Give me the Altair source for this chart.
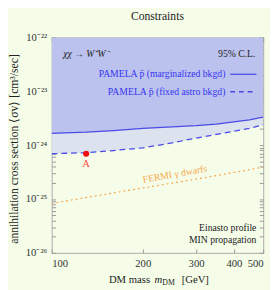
import altair as alt
import pandas as pd
import math

# ---- data ----
mass = [100, 130, 160, 200, 250, 300, 350, 400, 450, 500]
pamela_marg = [1.66e-24, 1.74e-24, 1.86e-24, 2.04e-24, 2.19e-24, 2.29e-24, 2.45e-24, 2.69e-24, 2.95e-24, 3.31e-24]
pamela_fixed = [6.92e-25, 7.24e-25, 7.94e-25, 8.91e-25, 1.10e-24, 1.35e-24, 1.58e-24, 1.82e-24, 2.04e-24, 2.40e-24]
excluded_top = [1e-22] * len(mass)

fermi_mass = [100, 200, 300, 400, 500]
fermi_sv = [8.3e-26, 1.6e-25, 2.34e-25, 3.1e-25, 3.9e-25]

point_mass = [130]
point_sv = [6.9e-25]
point_label = ["A"]

x_ticks = [100, 200, 300, 400, 500]
y_major = [1e-26, 1e-25, 1e-24, 1e-23, 1e-22]
y_major_labels = ["10⁻²⁶", "10⁻²⁵", "10⁻²⁴", "10⁻²³", "10⁻²²"]

df = pd.DataFrame({"mass": mass, "marg": pamela_marg, "fixed": pamela_fixed, "top": excluded_top})
df_f = pd.DataFrame({"mass": fermi_mass, "sv": fermi_sv})
df_p = pd.DataFrame({"mass": point_mass, "sv": point_sv, "label": point_label})

FONT = "Liberation Serif"
BG = "#f5fde9"
W, H = 218, 222

y_minor = [k * 10.0 ** e for e in range(-26, -22) for k in range(1, 10)] + [1e-22]

label_expr = "''"
for v, lab in zip(y_major, y_major_labels):
    e = round(math.log10(v))
    label_expr = f"abs(log(datum.value)/LN10 - ({e})) < 0.01 ? '{lab}' : ({label_expr})"

xscale = alt.Scale(type="log", domain=[100, 500], nice=False)
yscale = alt.Scale(type="log", domain=[1e-26, 1e-22], nice=False)

x_axis_bottom = alt.Axis(values=x_ticks, format="d", orient="bottom", offset=-4, tickSize=4,
                         labelPadding=5, domain=False, grid=False, title=None,
                         labelFont=FONT, labelFontSize=11, labelColor="#333", tickColor="#999")
x_axis_top = alt.Axis(values=x_ticks, orient="top", offset=-4, tickSize=4, labels=False,
                      domain=False, grid=False, title=None, tickColor="#999")
y_axis_left = alt.Axis(values=y_minor, labelExpr=label_expr, orient="left", offset=-4, tickSize=4,
                       labelPadding=5, domain=False, grid=False, title=None,
                       labelFont=FONT, labelFontSize=11, labelColor="#333", tickColor="#999")
y_axis_right = alt.Axis(values=y_minor, orient="right", offset=-4, tickSize=4, labels=False,
                        domain=False, grid=False, title=None, tickColor="#999")

X = alt.X("mass:Q", scale=xscale, axis=x_axis_bottom)
Xn = alt.X("mass:Q", scale=xscale, axis=None)

base = alt.Chart(df)

upper = base.mark_area(color="#bcc2ee", opacity=1, clip=True).encode(
    x=X, y=alt.Y("marg:Q", scale=yscale, axis=y_axis_left), y2="top:Q")
middle = base.mark_area(color="#dce2ee", opacity=1, clip=True).encode(
    x=Xn, y=alt.Y("fixed:Q", scale=yscale, axis=None), y2="marg:Q")
line_marg = base.mark_line(color="#4a4ae8", strokeWidth=1.3, clip=True).encode(
    x=alt.X("mass:Q", scale=xscale, axis=x_axis_top), y=alt.Y("marg:Q", scale=yscale, axis=y_axis_right))
line_fixed = base.mark_line(color="#4a4ae8", strokeWidth=1.3, strokeDash=[6, 4], clip=True).encode(
    x=Xn, y=alt.Y("fixed:Q", scale=yscale, axis=None))
fermi = alt.Chart(df_f).mark_line(color="#f5a64a", strokeWidth=1.2, strokeDash=[2, 3], clip=True).encode(
    x=Xn, y=alt.Y("sv:Q", scale=yscale, axis=None))
pt = alt.Chart(df_p).mark_point(filled=True, color="#ee1111", size=40, opacity=1).encode(
    x=Xn, y=alt.Y("sv:Q", scale=yscale, axis=None))
pt_lab = alt.Chart(df_p).mark_text(color="#ff4a4a", font=FONT, fontSize=11, dy=11).encode(
    x=Xn, y=alt.Y("sv:Q", scale=yscale, axis=None), text="label:N")


def txt(s, x, y, align="left", size=10, color="#222", style="normal", angle=0, baseline="middle"):
    return alt.Chart(pd.DataFrame({"t": [s]})).mark_text(
        align=align, baseline=baseline, font=FONT, fontSize=size, color=color,
        fontStyle=style, angle=angle).encode(x=alt.value(x), y=alt.value(y), text="t:N")


blue = "#3535f0"
texts = [
    txt("Constraints", W / 2, -22, align="center", size=12),
    txt("χχ → W⁺W⁻", 12, 17, style="italic"),
    txt("95% C.L.", 210, 17, align="right"),
    txt("PAMELA p̄ (marginalized bkgd)", 179, 38, align="right", color=blue),
    txt("PAMELA p̄ (fixed astro bkgd)", 179, 56, align="right", color=blue),
    txt("Einasto profile", 211, 196, align="right"),
    txt("MIN propagation", 211, 209, align="right"),
    txt("FERMI γ dwarfs", 127, 141, align="center", color="#f5a64a", angle=350),
    txt("DM mass", 59, 250, size=11),
    txt("m", 106, 250, style="italic", size=11),
    txt("DM", 114, 253, size=8),
    txt("[GeV]", 134, 250, size=11),
    txt("annihilation cross section   ⟨σv⟩   [cm³/sec]", -39, 115, align="center", angle=270, size=12),
]

legend_solid = alt.Chart(pd.DataFrame({"a": [0]})).mark_rule(color="#4a4ae8", strokeWidth=1.3).encode(
    x=alt.value(184), x2=alt.value(211), y=alt.value(38))
legend_dash = alt.Chart(pd.DataFrame({"a": [0]})).mark_rule(color="#4a4ae8", strokeWidth=1.3,
                                                            strokeDash=[5, 4]).encode(
    x=alt.value(184), x2=alt.value(211), y=alt.value(56))

chart = alt.layer(upper, middle, line_marg, line_fixed, fermi, pt, pt_lab,
                  legend_solid, legend_dash, *texts).resolve_axis(
    x="independent", y="independent"
).properties(
    width=W, height=H,
    autosize=alt.AutoSizeParams(type="none"),
    padding={"left": 45, "top": 26, "right": 7, "bottom": 34},
    background=BG,
).configure_view(stroke="#aaaaaa", strokeWidth=1)

chart.save("out.html", embed_options={"renderer": "svg", "actions": False})
